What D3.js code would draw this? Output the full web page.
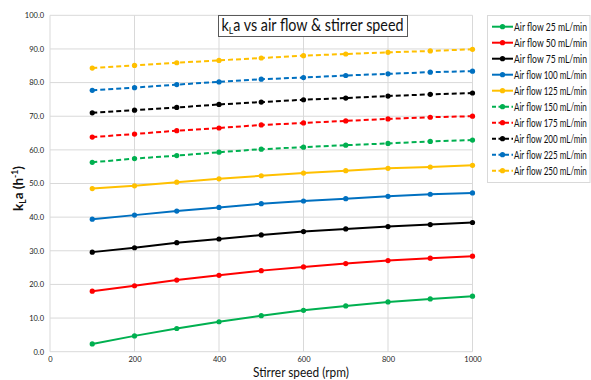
<!DOCTYPE html>
<html>
<head>
<meta charset="utf-8">
<script src="https://cdn.jsdelivr.net/npm/d3@7"></script>
<style>
  html, body { margin: 0; padding: 0; background: #fff; }
  svg { display: block; font-family: Lato, "Open Sans", sans-serif; }
</style>
</head>
<body>
<svg id="chart" width="591" height="380"></svg>
<script>
// Stirrer speeds (rpm)
const speeds = [100, 200, 300, 400, 500, 600, 700, 800, 900, 1000];

// kLa (h^-1) per air flow rate
const flow25  = [2.3, 4.7, 6.9, 8.9, 10.7, 12.3, 13.6, 14.8, 15.7, 16.5];
const flow50  = [18.0, 19.6, 21.3, 22.7, 24.1, 25.2, 26.2, 27.1, 27.8, 28.4];
const flow75  = [29.6, 30.9, 32.4, 33.5, 34.7, 35.7, 36.5, 37.2, 37.8, 38.4];
const flow100 = [39.4, 40.6, 41.8, 42.9, 44.0, 44.8, 45.5, 46.2, 46.8, 47.2];
const flow125 = [48.5, 49.3, 50.4, 51.4, 52.3, 53.1, 53.8, 54.5, 54.9, 55.4];
const flow150 = [56.3, 57.4, 58.3, 59.3, 60.2, 60.8, 61.4, 61.9, 62.5, 62.9];
const flow175 = [63.8, 64.7, 65.7, 66.5, 67.4, 68.0, 68.6, 69.2, 69.7, 70.0];
const flow200 = [71.0, 71.8, 72.6, 73.5, 74.2, 74.9, 75.4, 76.0, 76.5, 76.9];
const flow225 = [77.7, 78.5, 79.4, 80.2, 81.0, 81.5, 82.1, 82.6, 83.1, 83.4];
const flow250 = [84.3, 85.1, 85.9, 86.6, 87.3, 88.0, 88.5, 89.0, 89.4, 89.9];

const seriesNames = [
  "Air flow 25 mL/min", "Air flow 50 mL/min", "Air flow 75 mL/min",
  "Air flow 100 mL/min", "Air flow 125 mL/min", "Air flow 150 mL/min",
  "Air flow 175 mL/min", "Air flow 200 mL/min", "Air flow 225 mL/min",
  "Air flow 250 mL/min"
];
const seriesValues = [flow25, flow50, flow75, flow100, flow125,
                      flow150, flow175, flow200, flow225, flow250];

const xTicks = [0, 200, 400, 600, 800, 1000];
const yTicks = [0, 10, 20, 30, 40, 50, 60, 70, 80, 90, 100];

const palette = ["#00b050", "#ff0000", "#000000", "#0070c0", "#ffc000"];
const styles = seriesNames.map((name, i) => ({
  name,
  color: palette[i % 5],
  dashed: i >= 5
}));

// Squeeze a text element horizontally so it spans at most maxWidth pixels
function fitText(node, maxWidth) {
  const w = node.getComputedTextLength();
  if (w > maxWidth) {
    node.setAttribute("textLength", maxWidth);
    node.setAttribute("lengthAdjust", "spacingAndGlyphs");
  }
}

const svg = d3.select("#chart");
const plot = { left: 50, right: 472.5, top: 15.3, bottom: 351.7 };

const x = d3.scaleLinear().domain([0, 1000]).range([plot.left, plot.right]);
const y = d3.scaleLinear().domain([0, 100]).range([plot.bottom, plot.top]);

// Gridlines
const grid = svg.append("g").attr("stroke", "#d9d9d9").attr("stroke-width", 1);
grid.selectAll("line.h").data(yTicks).join("line")
  .attr("x1", plot.left).attr("x2", plot.right)
  .attr("y1", d => y(d)).attr("y2", d => y(d));
grid.selectAll("line.v").data(xTicks).join("line")
  .attr("y1", plot.top).attr("y2", plot.bottom)
  .attr("x1", d => x(d)).attr("x2", d => x(d));

// Axes (labels only, lines come from the grid)
const yAxis = d3.axisLeft(y).tickValues(yTicks).tickFormat(d3.format(".1f")).tickSize(0).tickPadding(6);
const gy = svg.append("g").attr("transform", `translate(${plot.left},0)`).call(yAxis);
gy.select(".domain").remove();
gy.selectAll("text").attr("font-size", 7.5).attr("fill", "#222").attr("font-family", "Lato, sans-serif");

const xAxis = d3.axisBottom(x).tickValues(xTicks).tickFormat(d3.format("d")).tickSize(0).tickPadding(4.5);
const gx = svg.append("g").attr("transform", `translate(0,${plot.bottom})`).call(xAxis);
gx.select(".domain").remove();
gx.selectAll("text").attr("font-size", 7.5).attr("fill", "#222").attr("font-family", "Lato, sans-serif");

// Series
const line = d3.line().x((d, i) => x(speeds[i])).y(d => y(d));
const series = svg.append("g");
seriesValues.forEach((vals, i) => {
  const s = styles[i];
  const g = series.append("g");
  g.append("path").datum(vals)
    .attr("fill", "none")
    .attr("stroke", s.color)
    .attr("stroke-width", 2)
    .attr("stroke-dasharray", s.dashed ? "5,3" : null)
    .attr("d", line);
  g.selectAll("circle").data(vals).join("circle")
    .attr("cx", (d, j) => x(speeds[j]))
    .attr("cy", d => y(d))
    .attr("r", 2.6)
    .attr("fill", s.color);
});

// Title box
const title = svg.append("g");
title.append("rect")
  .attr("x", 218.5).attr("y", 15.5).attr("width", 189).attr("height", 21)
  .attr("fill", "#fff").attr("stroke", "#595959").attr("stroke-width", 1);
const tt = title.append("text")
  .attr("x", 221.5).attr("y", 31)
  .attr("font-size", 16.5).attr("fill", "#111");
tt.append("tspan").text("k");
tt.append("tspan").attr("font-size", 10).attr("dy", 3).text("L");
tt.append("tspan").attr("dy", -3).text("a vs air flow & stirrer speed");
fitText(tt.node(), 182);

// Axis titles
const yt = svg.append("text")
  .attr("transform", "translate(22.5,211) rotate(-90)")
  .attr("font-size", 13.5).attr("font-weight", "bold").attr("fill", "#111");
yt.append("tspan").text("k");
yt.append("tspan").attr("font-size", 8.5).attr("dy", 3).text("L");
yt.append("tspan").attr("dy", -3).text("a (h");
yt.append("tspan").attr("font-size", 8.5).attr("dy", -5).text("-1");
yt.append("tspan").attr("dy", 5).text(")");
fitText(yt.node(), 48);

const xt = svg.append("text")
  .attr("x", 253).attr("y", 377)
  .attr("font-size", 13).attr("fill", "#111")
  .text("Stirrer speed (rpm)");
fitText(xt.node(), 96);

// Legend: entries are condensed horizontally so the longest label ends inside the frame
const legend = svg.append("g");
legend.append("rect")
  .attr("x", 487.5).attr("y", 15.5).attr("width", 102.5).attr("height", 167)
  .attr("fill", "#fff").attr("stroke", "#d9d9d9").attr("stroke-width", 1);
styles.forEach((s, i) => {
  const ry = 26.7 + i * 16;
  const row = legend.append("g");
  row.append("line")
    .attr("x1", 492).attr("x2", 513).attr("y1", ry).attr("y2", ry)
    .attr("stroke", s.color).attr("stroke-width", 2)
    .attr("stroke-dasharray", s.dashed ? "4,2.5" : null);
  row.append("circle").attr("cx", 502.5).attr("cy", ry).attr("r", 2.6).attr("fill", s.color);
  const lab = row.append("g").attr("transform", `translate(514,${ry + 3.8})`);
  const t = lab.append("text")
    .attr("x", 0).attr("y", 0)
    .attr("font-size", 11).attr("fill", "#111")
    .text(s.name);
  const w = t.node().getComputedTextLength();
  const sx = Math.min(0.92, 73 / w);
  lab.attr("transform", `translate(514,${ry + 3.8}) scale(${sx},1)`);
});
</script>
</body>
</html>
